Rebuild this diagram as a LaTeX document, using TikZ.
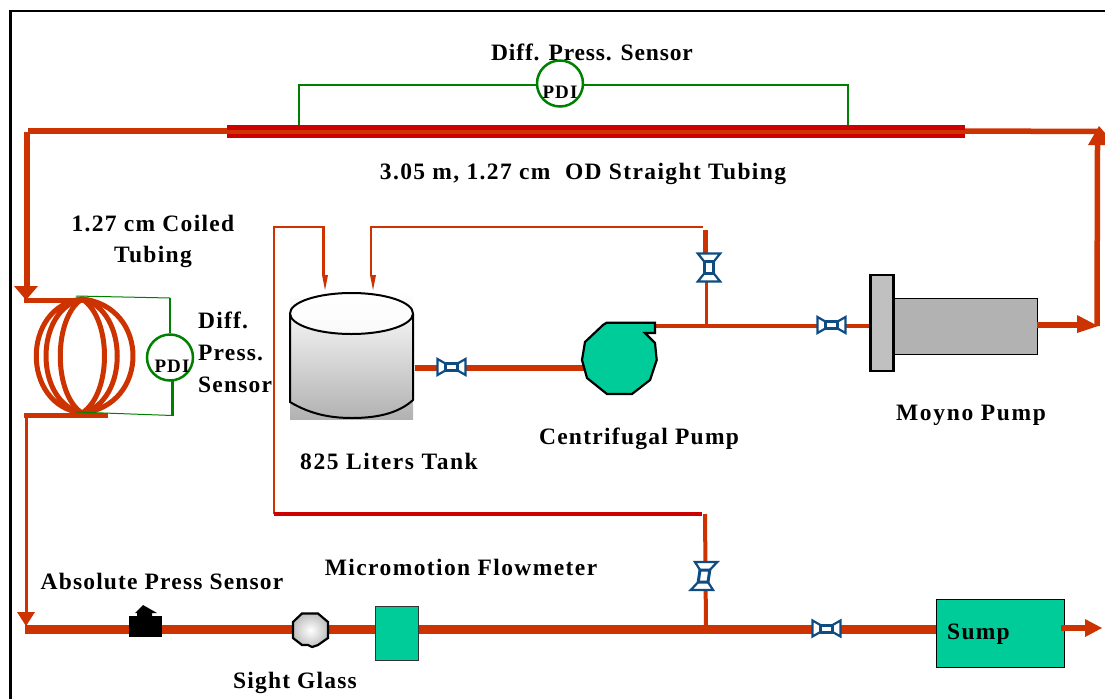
\documentclass[tikz,border=0pt]{standalone}
\usepackage{fontspec}
\setmainfont{Liberation Serif}
\definecolor{pipe}{HTML}{CC3300}
\definecolor{darkred}{HTML}{CC0000}
\definecolor{sens}{HTML}{008000}
\definecolor{teal}{HTML}{00CC99}
\definecolor{valvec}{HTML}{0F4C81}
\definecolor{grayA}{HTML}{B2B2B2}
\definecolor{grayB}{HTML}{C0C0C0}
\tikzset{
 x=1pt,y=-1pt,
 pipethin/.style={draw=pipe,line width=2.5pt},
 pipemid/.style={draw=pipe,line width=5.5pt},
 pipefat/.style={draw=pipe,line width=8.5pt},
 sensline/.style={draw=sens,line width=2.7pt},
 coil/.style={draw=pipe,line width=5pt,line join=round},
 lab/.style={font=\fontsize{23.5}{31}\selectfont\bfseries\addfontfeature{LetterSpace=#1},align=center,inner sep=0pt,text=black},
 pdilab/.style={font=\fontsize{19}{22}\selectfont\bfseries\addfontfeature{LetterSpace=6},inner sep=0pt},
 valve/.pic={\draw[valvec,line width=2.2pt,fill=white,line join=miter]
   (-14,-8)--(14,8)--(14,-8)--(-14,8)--cycle;
   \draw[valvec,line width=3pt,fill=white](-6,-3.5) rectangle (6,3.5);},
 pdi/.style={circle,draw=sens,line width=2.5pt,fill=white,minimum size=46pt,inner sep=0pt},
}
\begin{document}
\begin{tikzpicture}
\useasboundingbox (0,0) rectangle (1105,699);
\fill[white] (0,0) rectangle (1105,699);
\coordinate (bl) at (10.5,699); \coordinate (tl) at (10.5,11); \coordinate (tr) at (1105,11);
\draw[black,line width=2.2pt] (bl) -- (tl) -- (tr);
% upper run
\coordinate (A) at (228,131); \coordinate (B) at (965,131);
\coordinate (C) at (27,132); \coordinate (D) at (27,287);
\coordinate (G) at (1037,325); \coordinate (H) at (1078,325);
\coordinate (F) at (1097,326); \coordinate (F1) at (1097.5,144);
\draw[pipemid] (A) -- (28,131);
\draw[pipe,line width=6pt] (C) -- (D);
\fill[pipe] (14,286) -- (38,286) -- (26,300) -- cycle;
\draw[pipemid] (B) -- (1098,131.5);
\fill[pipe] (1099,126) -- (1088,145) -- (1105,145) -- (1105,133) -- cycle;
\draw[pipe,line width=5.5pt] (F1) -- (F);
\fill[darkred] (227,125) rectangle (965,138);
\fill[pipe] (227,129.5) rectangle (965,134);
% top differential sensor
\coordinate (S1) at (299,125); \coordinate (S1b) at (299,85);
\coordinate (S2) at (848,125); \coordinate (S2b) at (848,85);
\draw[sensline] (S1) -- (S1b) -- (S2b) -- (S2);
\node[pdi] (P1) at (560,83.5) {};
\node[pdilab] (P1t) at (560,92) {PDI};
% coil
\draw[pipemid] (24,300.5) -- (90,300.5);
\draw[pipemid] (24,415.5) -- (108,415.5);
\coordinate (ct) at (82,299); \coordinate (cb) at (82,413);
\draw[coil] (ct) .. controls (21,306) and (21,406) .. (cb) .. controls (150,406) and (150,306) .. (ct) -- cycle;
\draw[coil] (ct) .. controls (34,310) and (34,402) .. (cb) .. controls (129,402) and (129,310) .. (ct) -- cycle;
\draw[coil] (ct) .. controls (53,318) and (53,394) .. (cb) .. controls (112,394) and (112,318) .. (ct) -- cycle;
% coil sensor
\node[pdi] (P2) at (170,357.5) {};
\node[pdilab] (P2t) at (172,366) {PDI};
\coordinate (Q1) at (76,296); \coordinate (Q2) at (170,298);
\coordinate (Q3) at (76,412); \coordinate (Q4) at (172.5,415.5);
\draw[sens,line width=1pt] (Q1) -- (Q2);
\draw[sens,line width=1pt] (Q3) -- (Q4);
\draw[sensline] (Q2) -- (P2);
\draw[sensline] (Q4) -- (172.5,380);
% return
\draw[pipe,line width=3pt] (26.5,415) -- (26.5,615);
\fill[pipe] (17,612) -- (35,612) -- (26,626) -- cycle;
\draw[pipefat] (25,629.5) -- (938,629.5);
% tank inlet lines
\draw[pipethin] (274,514) -- (274,227) -- (323.5,227) -- (323.5,276);
\fill[pipe] (322,275) -- (328,275) -- (325,290) -- cycle;
\draw[pipethin] (371,276) -- (371,227) -- (703,227);
\fill[pipe] (370,275) -- (376,275) -- (373,290) -- cycle;
\draw[pipe,line width=5pt] (705.5,230) -- (705.5,262);
\draw[pipe,line width=3pt] (706,275) -- (706,326);
\draw[pipe,line width=3.5pt] (655,326) -- (871,326);
\draw[pipe,line width=6pt] (415,368) -- (585,368);
\draw[darkred,line width=4pt] (274,514) -- (702,514);
\draw[pipe,line width=4pt] (705,514) -- (706,629);
% tank
\fill[top color=white,bottom color=grayA] (290,293) rectangle (413,419);
\draw[black,line width=2pt,top color=white!85!grayA,bottom color=grayA] (290,314) -- (290,402) .. controls (310,414) and (330,418) .. (352,418) .. controls (380,418) and (400,412) .. (413,400) -- (413,314);
\draw[black,line width=2pt,top color=white,bottom color=white!93!grayA] (351.5,313.5) ellipse (61.5 and 20.5);
% centrifugal pump
\draw[black,line width=2.2pt,fill=teal] (606.7,322.7) -- (655,322.7) -- (655,333) -- (645,333) -- (655,343) -- (656.7,360) -- (650,380) -- (632,394) -- (607,394) -- (587,378) -- (582,360) -- (585,342) -- (603,325) -- cycle;
% Moyno pump
\draw[black,line width=1pt,fill=grayA] (894,298.5) rectangle (1037.5,354);
\draw[black,line width=2.8pt,fill=grayB] (870.5,275) rectangle (893.5,371);
\draw[pipemid] (G) -- (H);
\fill[pipe] (1077,315) -- (1098,326) -- (1077,333) -- cycle;
% valves
\pic at (451.5,367) {valve};
\pic at (831.5,325) {valve};
\pic at (826.5,628.5) {valve};
\pic[rotate=90,yscale=1.4] at (709,267.5) {valve};
\pic[xslant=0.15,rotate=90,yscale=1.4] at (704,576) {valve};
% absolute sensor
\fill[black] (129,616) rectangle (162,637);
\fill[black] (137,616.5) -- (137,613) -- (135,613) -- (143,605) -- (157,613) -- (152,613) -- (152,616.5) -- cycle;
% sight glass
\draw[black,line width=2.2pt,inner color=white,outer color=grayB] (302,613.5) -- (318,613.5) -- (328,622) -- (328,638) -- (318,645) -- (312,647) -- (308,645) -- (302,645) -- (293,638) -- (293,622) -- cycle;
% flowmeter
\draw[black!80,line width=1pt,fill=teal] (375.5,606.5) rectangle (418,660);
% sump
\draw[black,line width=1pt,fill=teal] (936.5,599) rectangle (1064,667.5);
\draw[pipe,line width=6pt] (1061,628) -- (1088,628);
\fill[pipe] (1085,619) -- (1102,628) -- (1085,637) -- cycle;
% labels
\node[lab=3.6] (l1) at (592,52) {Diff. Press. Sensor};
\node[lab=5.9] (l2) at (583,174) {3.05 m, 1.27 cm\ \ OD Straight Tubing};
\node[lab=5.6] (l3) at (153,241) {1.27 cm Coiled\\Tubing};
\node[lab=5,align=left,anchor=north west,font=\fontsize{23.5}{32}\selectfont\bfseries\addfontfeature{LetterSpace=5}] (l4) at (198,312) {Diff.\\Press.\\Sensor};
\node[lab=6.8] (l5) at (389,461) {825 Liters Tank};
\node[lab=5.4] (l6) at (639,439) {Centrifugal Pump};
\node[lab=7.2] (l7) at (971,415) {Moyno Pump};
\node[lab=5] (l8) at (162,581) {Absolute Press Sensor};
\node[lab=6] (l9) at (461,567) {Micromotion Flowmeter};
\node[lab=5] (l10) at (295,683) {Sight Glass};
\node[lab=5.3,anchor=west] (l11) at (947,634) {Sump};
\end{tikzpicture}
\end{document}
